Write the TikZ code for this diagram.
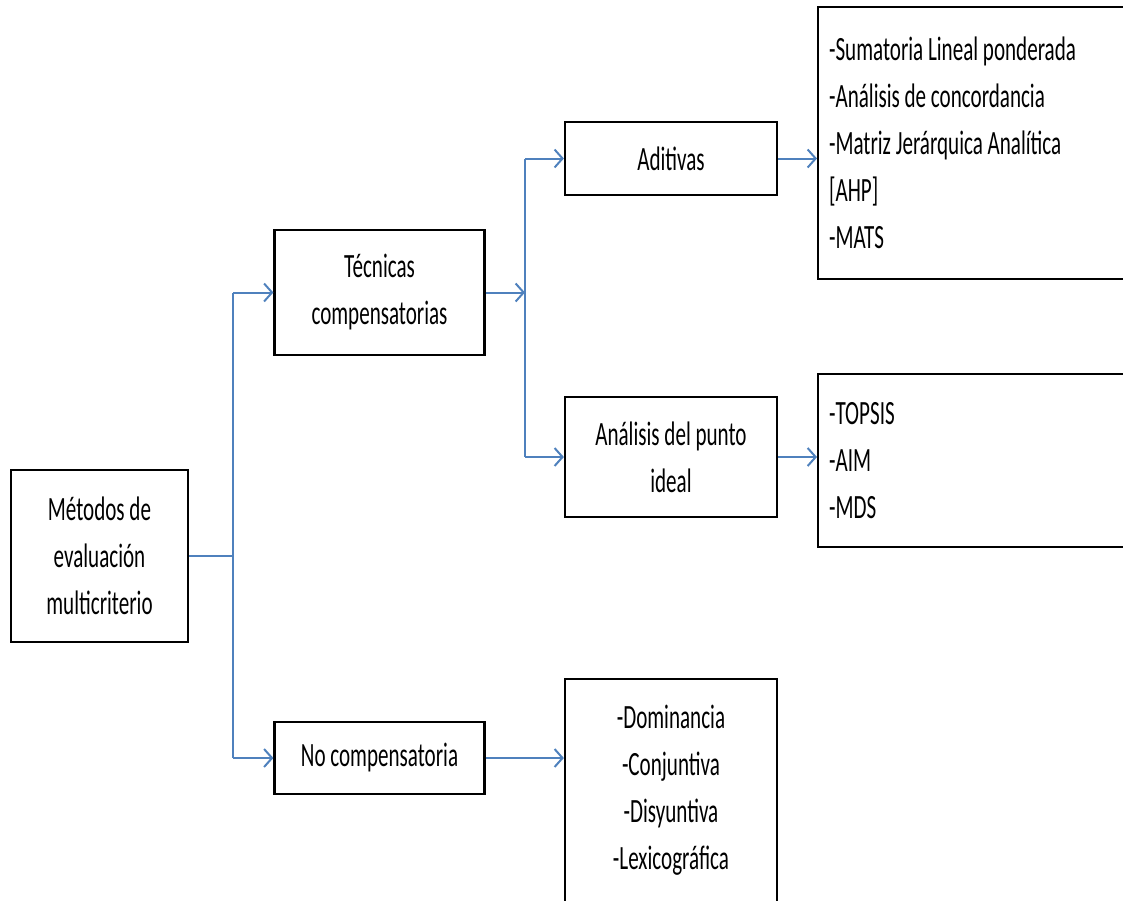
\documentclass[tikz,border=0pt]{standalone}
\usepackage{fontspec}
\setmainfont[FakeStretch=0.62]{Carlito}
\usetikzlibrary{arrows.meta}
\definecolor{azul}{HTML}{4F81BD}
\begin{document}
\begin{tikzpicture}[x=1pt,y=-1pt,
    caja/.style={draw=black,line width=2.2pt,inner sep=0pt,align=center,
      font=\fontsize{34}{47}\selectfont},
    lista/.style={caja,align=flush left,inner xsep=11pt,anchor=north west},
    linea/.style={draw=azul,line width=2pt},
    flecha/.style={linea,-{Straight Barb[length=8pt,width=18pt,line width=2pt]}}]
      \useasboundingbox (0,0) rectangle (1123,900);
      \node[caja,minimum width=177pt,minimum height=172pt] at (99.5,556) (metodos) {Métodos de\\evaluación\\multicriterio};
      \node[caja,minimum width=210pt,minimum height=125pt] at (379.5,292.5) (tecnicas) {Técnicas\\compensatorias};
      \node[caja,minimum width=210pt,minimum height=72pt] at (379.5,758) (nocomp) {No compensatoria};
      \node[caja,minimum width=212pt,minimum height=73pt] at (671,158.5) (aditivas) {Aditivas};
      \node[caja,minimum width=212pt,minimum height=120pt] at (671,457) (analisis) {Análisis del punto\\ideal};
      \node[caja,minimum width=212pt,minimum height=223pt] at (671,790.5) (dominancia) {-Dominancia\\-Conjuntiva\\-Disyuntiva\\-Lexicográfica};
      \node[lista,text width=301pt,minimum height=272pt] at (817,6) (lista1) {-Sumatoria Lineal ponderada\\-Análisis de concordancia\\-Matriz Jerárquica Analítica\\{[AHP]}\\-MATS};
      \node[lista,text width=301pt,minimum height=173pt] at (817,373) (lista2) {-TOPSIS\\-AIM\\-MDS};
      \coordinate (tronco1) at (233,0);
      \coordinate (tronco2) at (525,0);
      \draw[linea] (metodos.east) -- (metodos.east -| tronco1);
      \draw[linea] (tronco1 |- tecnicas) -- (tronco1 |- nocomp);
      \draw[flecha] (tronco1 |- tecnicas) -- (tecnicas.west);
      \draw[flecha] (tronco1 |- nocomp) -- (nocomp.west);
      \draw[flecha] (tecnicas.east) -- (tecnicas.east -| tronco2);
      \draw[linea] (tronco2 |- aditivas) -- (tronco2 |- analisis);
      \draw[flecha] (tronco2 |- aditivas) -- (aditivas.west);
      \draw[flecha] (tronco2 |- analisis) -- (analisis.west);
      \draw[flecha] (aditivas.east) -- (aditivas.east -| lista1.west);
      \draw[flecha] (analisis.east) -- (analisis.east -| lista2.west);
      \draw[flecha] (nocomp.east) -- (nocomp.east -| dominancia.west);
    \end{tikzpicture}
\end{document}
